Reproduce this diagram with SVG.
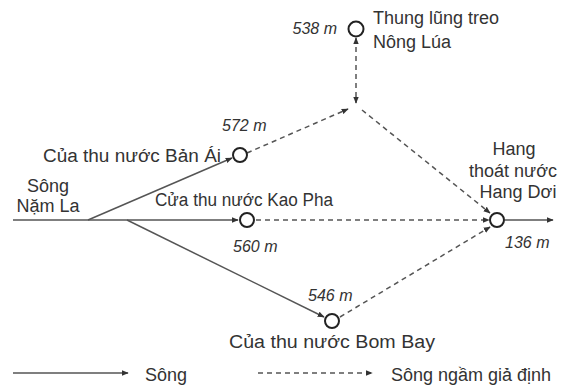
<svg xmlns="http://www.w3.org/2000/svg" width="566" height="387" viewBox="0 0 566 387">
<defs>
<marker id="ah" viewBox="0 0 10 10" refX="9" refY="5" markerWidth="7" markerHeight="7" markerUnits="userSpaceOnUse" orient="auto-start-reverse">
<path d="M0,1 L10,5 L0,9 z" fill="#333"/>
</marker>
</defs>
<style>
.t{font-family:"Liberation Sans",Arial,sans-serif;font-size:18px;fill:#333}
.e{font-family:"Liberation Sans",Arial,sans-serif;font-size:16px;font-style:italic;fill:#333}
.n{fill:#fff;stroke:#222;stroke-width:2}
.s{stroke:#555;stroke-width:1.5;fill:none}
.d{stroke:#555;stroke-width:1.5;fill:none;stroke-dasharray:5,4}
</style>
<rect width="566" height="387" fill="#fff"/>
<g id="connectors">
<line class="s" x1="13" y1="220" x2="238" y2="220" marker-end="url(#ah)"/>
<line class="s" x1="88" y1="220" x2="232" y2="158" marker-end="url(#ah)"/>
<line class="s" x1="127" y1="220" x2="324" y2="317" marker-end="url(#ah)"/>
<line class="s" x1="505" y1="220" x2="553" y2="220" marker-end="url(#ah)"/>
<line class="d" x1="247" y1="153" x2="348" y2="109" marker-end="url(#ah)"/>
<line class="d" x1="356" y1="38" x2="356" y2="103" marker-start="url(#ah)" marker-end="url(#ah)"/>
<line class="d" x1="362" y1="110" x2="490" y2="213" marker-end="url(#ah)"/>
<line class="d" x1="256" y1="220" x2="489" y2="220" marker-end="url(#ah)"/>
<line class="d" x1="340" y1="317" x2="490" y2="227" marker-end="url(#ah)"/>
<line class="s" x1="13" y1="373" x2="128" y2="373" marker-end="url(#ah)"/>
<line class="d" x1="258" y1="373" x2="372" y2="373" marker-end="url(#ah)"/>
</g>
<g id="nong-lua">
<circle class="n" cx="356" cy="29" r="7.5"/>
<text class="e" x="337" y="34" text-anchor="end">538 m</text>
<text class="t" x="373" y="24">Thung lũng treo</text>
<text class="t" x="373" y="48">Nông Lúa</text>
</g>
<g id="ban-ai">
<circle class="n" cx="240" cy="155" r="7"/>
<text class="e" x="222" y="131">572 m</text>
<text class="t" x="43" y="162" textLength="178" lengthAdjust="spacingAndGlyphs">Của thu nước Bản Ái</text>
</g>
<g id="kao-pha">
<circle class="n" cx="247" cy="220" r="7"/>
<text class="t" x="155" y="206" textLength="178" lengthAdjust="spacingAndGlyphs">Cửa thu nước Kao Pha</text>
<text class="e" x="233" y="252">560 m</text>
</g>
<g id="bom-bay">
<circle class="n" cx="332" cy="321" r="7"/>
<text class="e" x="308" y="301">546 m</text>
<text class="t" x="229" y="348" textLength="206" lengthAdjust="spacingAndGlyphs">Của thu nước Bom Bay</text>
</g>
<g id="hang-doi">
<circle class="n" cx="497" cy="220" r="7"/>
<text class="t" x="514" y="155" text-anchor="middle">Hang</text>
<text class="t" x="513" y="177" text-anchor="middle">thoát nước</text>
<text class="t" x="518" y="198" text-anchor="middle">Hang Dơi</text>
<text class="e" x="505" y="248">136 m</text>
</g>
<g id="song-nam-la">
<text class="t" x="48" y="192" text-anchor="middle">Sông</text>
<text class="t" x="48" y="212" text-anchor="middle">Nặm La</text>
</g>
<g id="legend">
<text class="t" x="145" y="381">Sông</text>
<text class="t" x="391" y="381">Sông ngầm giả định</text>
</g>
</svg>
